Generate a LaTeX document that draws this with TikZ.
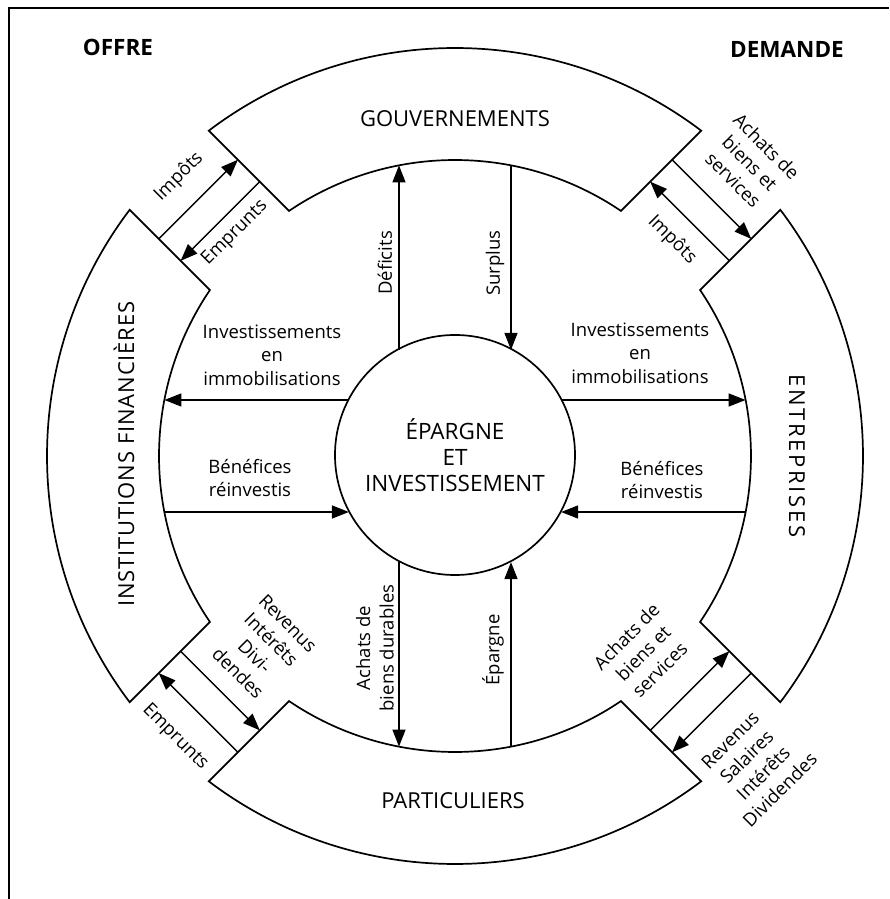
\documentclass[tikz,border=0pt]{standalone}
\usepackage{fontspec}
\setmainfont{Open Sans}
\newfontfamily\sectorwide[LetterSpace=4]{Open Sans}
\newfontfamily\sectorwider[LetterSpace=12]{Open Sans}
\usetikzlibrary{arrows.meta}
\begin{document}
\begin{tikzpicture}[x=1pt,y=1pt,
  ringpart/.style={draw, line width=1.7pt, fill=white},
  flow/.style={line width=1.4pt, -{Triangle[length=17pt,width=13pt]}},
  lbl/.style={font=\fontsize{18.5}{23.5}\selectfont, align=center, inner sep=0pt},
  sector/.style={font=\fontsize{22}{26}\selectfont, inner sep=0pt},
  heading/.style={font=\bfseries\fontsize{22.5}{27}\selectfont, inner sep=0pt}]
\useasboundingbox (-455,-443) rectangle (434,456);
% open frame: top and left edges
\draw[line width=1.5pt] (-446,-443) -- (-446,448) -- (434,448);

% four ring sectors separated by diagonal channels of half-width 56
\pgfmathsetmacro\ao{asin(56/408)}
\pgfmathsetmacro\ai{asin(56/296)}
\pgfmathsetmacro\aoA{45+\ao}\pgfmathsetmacro\aoB{135-\ao}
\pgfmathsetmacro\aiA{45+\ai}\pgfmathsetmacro\aiB{135-\ai}
\foreach \r in {0,90,180,270}{
  \begin{scope}[rotate=\r]
    \draw[ringpart] (\aoA:408) arc[start angle=\aoA, end angle=\aoB, radius=408]
      -- (\aiB:296) arc[start angle=\aiB, end angle=\aiA, radius=296] -- cycle;
  \end{scope}}

% centre
\node[draw, circle, line width=1.7pt, minimum size=240pt, inner sep=0pt,
  align=center, font=\fontsize{22.5}{26}\selectfont] (ep) at (0,1)
  {ÉPARGNE\\ET\\INVESTISSEMENT};

% sector names
\node[sector] (gouv) at (0,337) {GOUVERNEMENTS};
\node[sector] (part) at (-2,-345) {PARTICULIERS};
\node[sector, rotate=90] (inst) at (-331,2) {\sectorwide INSTITUTIONS FINANCIÈRES};
\node[sector, rotate=-90] (entr) at (342,0) {\sectorwider ENTREPRISES};

\node[heading] (offre) at (-337,409) {OFFRE};
\node[heading] (demande) at (332,407) {DEMANDE};

% vertical and horizontal flows between the centre and the ring
\coordinate (dfA) at (-56,106.1);  \coordinate (dfB) at (-56,290.6);
\coordinate (spA) at (56,290.6);   \coordinate (spB) at (56,106.1);
\coordinate (abA) at (-56,-106.1); \coordinate (abB) at (-56,-290.6);
\coordinate (egA) at (56,-290.6);  \coordinate (egB) at (56,-106.1);
\coordinate (ilA) at (-106.1,56);  \coordinate (ilB) at (-290.6,56);
\coordinate (irA) at (106.1,56);   \coordinate (irB) at (290.6,56);
\coordinate (blA) at (-290.6,-56); \coordinate (blB) at (-106.1,-56);
\coordinate (brA) at (290.6,-56);  \coordinate (brB) at (106.1,-56);
\draw[flow] (dfA) -- (dfB);
\draw[flow] (spA) -- (spB);
\draw[flow] (abA) -- (abB);
\draw[flow] (egA) -- (egB);
\draw[flow] (ilA) -- (ilB);
\draw[flow] (irA) -- (irB);
\draw[flow] (blA) -- (blB);
\draw[flow] (brA) -- (brB);

\node[lbl, rotate=90] (deficits) at (-70,193) {Déficits};
\node[lbl, rotate=90] (surplus) at (40,193) {Surplus};
\node[lbl, rotate=90] (durables) at (-80,-192) {Achats de\\biens durables};
\node[lbl, rotate=90] (epargne) at (38,-194) {Épargne};
\node[lbl] (invL) at (-183,101) {Investissements\\en\\immobilisations};
\node[lbl] (invR) at (185,103) {Investissements\\en\\immobilisations};
\node[lbl] (benL) at (-205,-22) {Bénéfices\\réinvestis};
\node[lbl] (benR) at (207,-24) {Bénéfices\\réinvestis};

% flows across the diagonal channels
\begin{scope}[rotate=135]
  \coordinate (tlOi) at (363,56);  \coordinate (tlOg) at (363,-56);
  \coordinate (tlIi) at (332,56);  \coordinate (tlIg) at (332,-56);
\end{scope}
\begin{scope}[rotate=45]
  \coordinate (trOg) at (363,56);  \coordinate (trOe) at (363,-56);
  \coordinate (trIg) at (332,56);  \coordinate (trIe) at (332,-56);
\end{scope}
\begin{scope}[rotate=-45]
  \coordinate (brOe) at (363,56);  \coordinate (brOp) at (363,-56);
  \coordinate (brIe) at (332,56);  \coordinate (brIp) at (332,-56);
\end{scope}
\begin{scope}[rotate=225]
  \coordinate (blOp) at (363,56);  \coordinate (blOi) at (363,-56);
  \coordinate (blIp) at (332,56);  \coordinate (blIi) at (332,-56);
\end{scope}
\draw[flow] (tlOi) -- (tlOg);
\draw[flow] (tlIg) -- (tlIi);
\draw[flow] (trOg) -- (trOe);
\draw[flow] (trIe) -- (trIg);
\draw[flow] (brIp) -- (brIe);
\draw[flow] (brOe) -- (brOp);
\draw[flow] (blIi) -- (blIp);
\draw[flow] (blOp) -- (blOi);

\node[lbl, rotate=45] (tlImp) at (-276,279) {Impôts};
\node[lbl, rotate=45] (tlEmp) at (-220,223) {Emprunts};
\node[lbl, rotate=-45] (trAch) at (295,293) {Achats de\\biens et\\services};
\node[lbl, rotate=-45] (trImp) at (217,216) {Impôts};
\node[lbl, rotate=45] (brAch) at (188,-197) {Achats de\\biens et\\services};
\node[lbl, rotate=45] (brRev) at (300,-309) {Revenus\\Salaires\\Intérêts\\Dividendes};
\node[lbl, rotate=-45] (blRev) at (-192,-192) {Revenus\\Intérêts\\Divi-\\dendes};
\node[lbl, rotate=-45] (blEmp) at (-280,-281) {Emprunts};
\end{tikzpicture}
\end{document}
